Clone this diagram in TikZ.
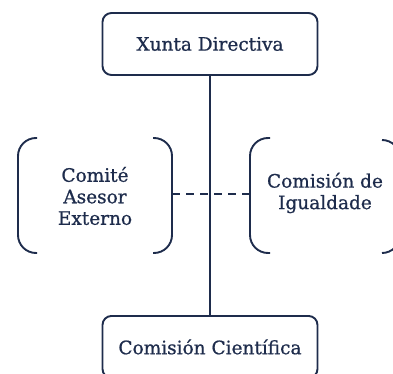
\documentclass[tikz,border=0pt]{standalone}
\usepackage{fontspec}
\setmainfont[FakeBold=0.8]{DejaVu Serif}
\definecolor{navy}{HTML}{1E2C4C}
\begin{document}
\begin{tikzpicture}[x=1pt,y=-1pt,
  line/.style={draw=navy,line width=1.9pt},
  boxnode/.style={line,rounded corners=9pt,minimum width=215pt,minimum height=62pt,inner sep=0pt,font=\fontsize{18.5}{21.5}\selectfont,text=navy},
  label/.style={font=\fontsize{18.5}{21.5}\selectfont,text=navy,align=center,inner sep=0pt},
  brk/.style={line,rounded corners=18pt},
  dsh/.style={draw=navy,line width=1.9pt,dash pattern=on 8pt off 6pt}]
\useasboundingbox (0,0) rectangle (393,374);
\clip (0,0) rectangle (393,374);
\node[boxnode] (xd) at (210,44) {Xunta Directiva};
\node[boxnode,anchor=north] (cc) at (210,315) {Comisión Científica};
\draw[line] (xd.south) -- (cc.north);
% left group
\draw[brk] (37,138) -- (18,138) -- (18,253) -- (37,253);
\draw[brk] (153,138) -- (172,138) -- (172,253) -- (153,253);
\coordinate (lr) at (172,194);
\node[label] (cae) at (95,196) {Comité\\Asesor\\Externo};
% right group
\draw[brk] (270,138) -- (250,138) -- (250,253) -- (270,253);
\draw[brk] (382,140) -- (400,140) -- (400,253) -- (382,253);
\coordinate (rl) at (250,194);
\node[label] (ci) at (325,193) {Comisión de\\Igualdade};
\draw[dsh] (lr) -- (rl);
\end{tikzpicture}
\end{document}
